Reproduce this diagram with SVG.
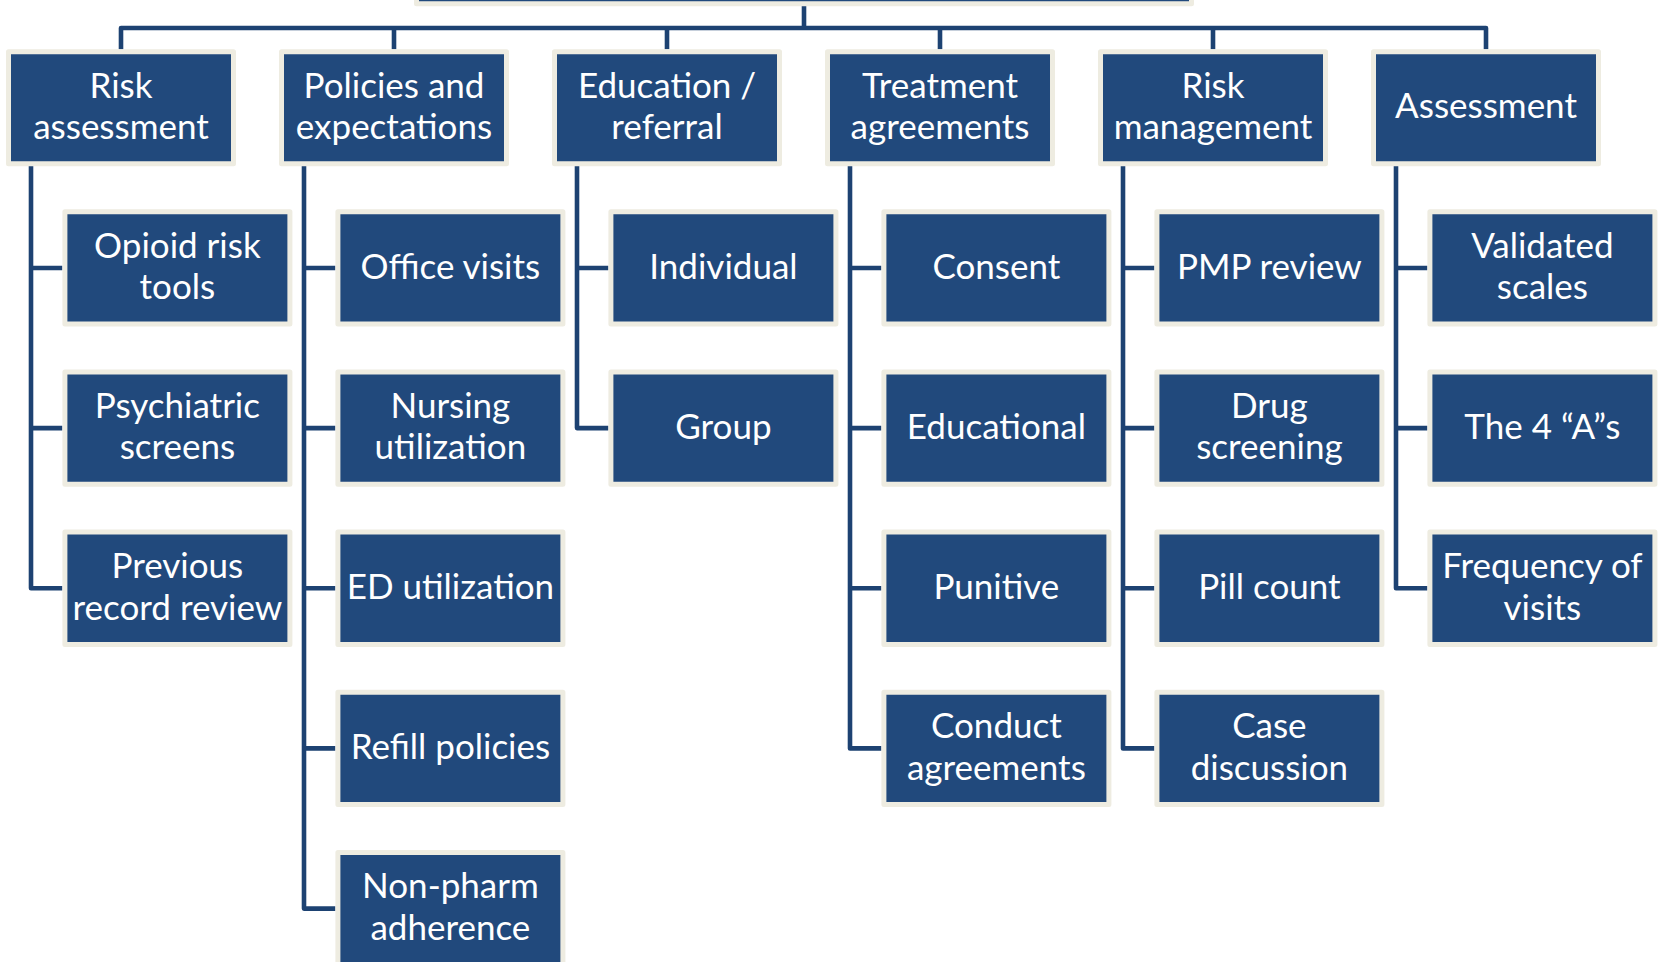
<svg xmlns="http://www.w3.org/2000/svg" width="1661" height="962" viewBox="0 0 1661 962">
<style>
.box{fill:#21497C;stroke:#EEECE1;stroke-width:5;stroke-linejoin:round}
.ln{fill:none;stroke:#1D4272;stroke-width:4.6;stroke-linejoin:round}
.t{font-family:Lato,"Liberation Sans",sans-serif;font-size:35px;fill:#FFFFFF;text-anchor:middle}
</style>
<rect width="1661" height="962" fill="#FFFFFF"/>
<g id="connectors">
<path class="ln" d="M804,6 V28"/>
<path class="ln" d="M121,49.3 V28 H1486 V49.3"/>
<path class="ln" d="M394,28 V49.3 M667,28 V49.3 M940,28 V49.3 M1213,28 V49.3"/>
<path class="ln" d="M31,166 V588.3 H62.4 M31,268 H62.4 M31,428.1 H62.4"/>
<path class="ln" d="M304,166 V908.6 H335.4 M304,268 H335.4 M304,428.1 H335.4 M304,588.3 H335.4 M304,748.4 H335.4"/>
<path class="ln" d="M577,166 V428.1 H608.4 M577,268 H608.4"/>
<path class="ln" d="M850,166 V748.4 H881.4 M850,268 H881.4 M850,428.1 H881.4 M850,588.3 H881.4"/>
<path class="ln" d="M1123,166 V748.4 H1154.4 M1123,268 H1154.4 M1123,428.1 H1154.4 M1123,588.3 H1154.4"/>
<path class="ln" d="M1396,166 V588.3 H1427.4 M1396,268 H1427.4 M1396,428.1 H1427.4"/>
</g>
<g id="root"><rect class="box" x="416.5" y="-100" width="775" height="103.75"/></g>
<g id="p0"><rect class="box" x="8.5" y="51.8" width="225" height="112"/><text class="t" x="121" y="97.5">Risk</text><text class="t" x="121" y="139">assessment</text></g>
<g id="p1"><rect class="box" x="281.5" y="51.8" width="225" height="112"/><text class="t" x="394" y="97.5">Policies and</text><text class="t" x="394" y="139">expectations</text></g>
<g id="p2"><rect class="box" x="554.5" y="51.8" width="225" height="112"/><text class="t" x="667" y="97.5">Education /</text><text class="t" x="667" y="139">referral</text></g>
<g id="p3"><rect class="box" x="827.5" y="51.8" width="225" height="112"/><text class="t" x="940" y="97.5">Treatment</text><text class="t" x="940" y="139">agreements</text></g>
<g id="p4"><rect class="box" x="1100.5" y="51.8" width="225" height="112"/><text class="t" x="1213" y="97.5">Risk</text><text class="t" x="1213" y="139">management</text></g>
<g id="p5"><rect class="box" x="1373.5" y="51.8" width="225" height="112"/><text class="t" x="1486" y="118.3">Assessment</text></g>

<g id="c0-0"><rect class="box" x="64.9" y="211.8" width="225" height="112.3"/><text class="t" x="177.4" y="257.7">Opioid risk</text><text class="t" x="177.4" y="299.2">tools</text></g>
<g id="c0-1"><rect class="box" x="64.9" y="371.95" width="225" height="112.3"/><text class="t" x="177.4" y="417.8">Psychiatric</text><text class="t" x="177.4" y="459.3">screens</text></g>
<g id="c0-2"><rect class="box" x="64.9" y="532.1" width="225" height="112.3"/><text class="t" x="177.4" y="578">Previous</text><text class="t" x="177.4" y="619.5">record review</text></g>

<g id="c1-0"><rect class="box" x="337.9" y="211.8" width="225" height="112.3"/><text class="t" x="450.4" y="278.5">Office visits</text></g>
<g id="c1-1"><rect class="box" x="337.9" y="371.95" width="225" height="112.3"/><text class="t" x="450.4" y="417.8">Nursing</text><text class="t" x="450.4" y="459.3">utilization</text></g>
<g id="c1-2"><rect class="box" x="337.9" y="532.1" width="225" height="112.3"/><text class="t" x="450.4" y="598.8">ED utilization</text></g>
<g id="c1-3"><rect class="box" x="337.9" y="692.25" width="225" height="112.3"/><text class="t" x="450.4" y="758.9">Refill policies</text></g>
<g id="c1-4"><rect class="box" x="337.9" y="852.4" width="225" height="112.3"/><text class="t" x="450.4" y="898.3">Non-pharm</text><text class="t" x="450.4" y="939.8">adherence</text></g>

<g id="c2-0"><rect class="box" x="610.9" y="211.8" width="225" height="112.3"/><text class="t" x="723.4" y="278.5">Individual</text></g>
<g id="c2-1"><rect class="box" x="610.9" y="371.95" width="225" height="112.3"/><text class="t" x="723.4" y="438.6">Group</text></g>

<g id="c3-0"><rect class="box" x="883.9" y="211.8" width="225" height="112.3"/><text class="t" x="996.4" y="278.5">Consent</text></g>
<g id="c3-1"><rect class="box" x="883.9" y="371.95" width="225" height="112.3"/><text class="t" x="996.4" y="438.6">Educational</text></g>
<g id="c3-2"><rect class="box" x="883.9" y="532.1" width="225" height="112.3"/><text class="t" x="996.4" y="598.8">Punitive</text></g>
<g id="c3-3"><rect class="box" x="883.9" y="692.25" width="225" height="112.3"/><text class="t" x="996.4" y="738.1">Conduct</text><text class="t" x="996.4" y="779.6">agreements</text></g>

<g id="c4-0"><rect class="box" x="1156.9" y="211.8" width="225" height="112.3"/><text class="t" x="1269.4" y="278.5">PMP review</text></g>
<g id="c4-1"><rect class="box" x="1156.9" y="371.95" width="225" height="112.3"/><text class="t" x="1269.4" y="417.8">Drug</text><text class="t" x="1269.4" y="459.3">screening</text></g>
<g id="c4-2"><rect class="box" x="1156.9" y="532.1" width="225" height="112.3"/><text class="t" x="1269.4" y="598.8">Pill count</text></g>
<g id="c4-3"><rect class="box" x="1156.9" y="692.25" width="225" height="112.3"/><text class="t" x="1269.4" y="738.1">Case</text><text class="t" x="1269.4" y="779.6">discussion</text></g>

<g id="c5-0"><rect class="box" x="1429.9" y="211.8" width="225" height="112.3"/><text class="t" x="1542.4" y="257.7">Validated</text><text class="t" x="1542.4" y="299.2">scales</text></g>
<g id="c5-1"><rect class="box" x="1429.9" y="371.95" width="225" height="112.3"/><text class="t" x="1542.4" y="438.6">The 4 “A”s</text></g>
<g id="c5-2"><rect class="box" x="1429.9" y="532.1" width="225" height="112.3"/><text class="t" x="1542.4" y="578">Frequency of</text><text class="t" x="1542.4" y="619.5">visits</text></g>
</svg>
